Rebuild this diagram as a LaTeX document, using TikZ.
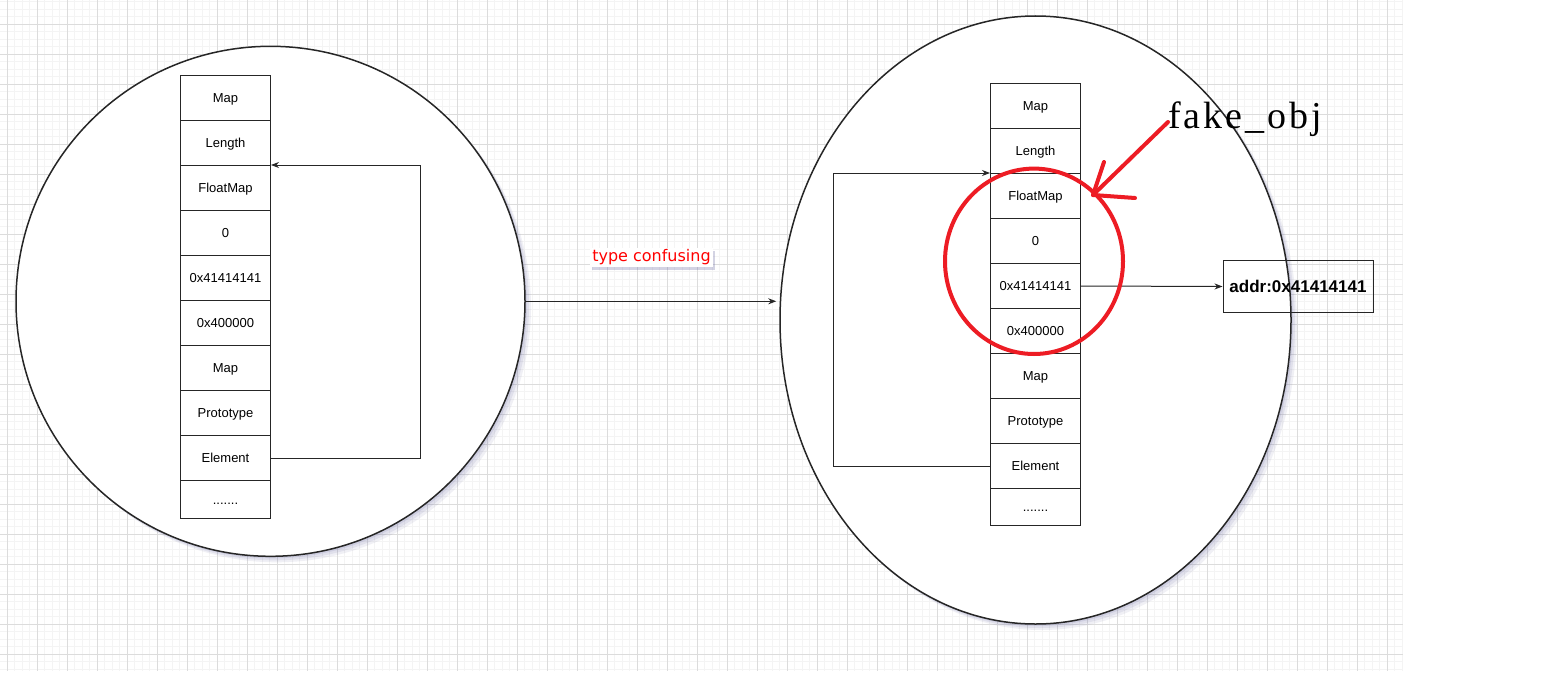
\documentclass[tikz,border=0pt]{standalone}
\usepackage{fontspec}
\setmainfont{Liberation Sans}
\newfontfamily\fakefont{Liberation Serif}[LetterSpace=8]
\newfontfamily\notefont{DejaVu Sans}
\usetikzlibrary{arrows.meta,shapes.geometric,shadows}

\definecolor{gridmajor}{RGB}{220,220,220}
\definecolor{gridminor}{RGB}{244,244,244}
\definecolor{markred}{RGB}{237,28,36}
\definecolor{shadowblue}{RGB}{110,110,165}

\tikzset{
  cell/.style={draw=black!85, line width=1pt, fill=white, minimum width=90pt,
    minimum height=45pt, inner sep=0pt, text height=10pt, text depth=0.4pt,
    font=\fontsize{13}{15}\selectfont},
  bubble/.style={ellipse, draw=black!85, line width=1.5pt, fill=white, inner sep=0pt,
    drop shadow={shadow xshift=2pt, shadow yshift=-2pt, fill=shadowblue, opacity=.15},
    drop shadow={shadow xshift=4pt, shadow yshift=-4pt, fill=shadowblue, opacity=.12},
    drop shadow={shadow xshift=6pt, shadow yshift=-6pt, fill=shadowblue, opacity=.1}},
  link/.style={line width=1pt, draw=black!85, -{Stealth[length=8pt,width=6pt]}},
  redmark/.style={draw=markred, line width=4pt, line cap=round},
}

\begin{document}
\begin{tikzpicture}[x=1pt,y=-1pt]
  \useasboundingbox (0,0) rectangle (1542,693);
  \fill[white] (0,0) rectangle (1542,693);

  % grid paper behind everything
  \begin{scope}
    \clip (0,0) rectangle (1403,671);
    \foreach \x in {-0.2,7.3,...,1403} \draw[gridminor, line width=1.2pt] (\x,0) -- (\x,671);
    \foreach \y in {1.8,9.3,...,671} \draw[gridminor, line width=1.2pt] (0,\y) -- (1403,\y);
    \foreach \x in {7.5,37.5,...,1403} \draw[gridmajor, line width=1pt] (\x,0) -- (\x,671);
    \foreach \y in {24.5,54.5,...,671} \draw[gridmajor, line width=1pt] (0,\y) -- (1403,\y);
  \end{scope}

  % the two objects
  \node[bubble, minimum width=509pt, minimum height=510pt] (lc) at (270.5,301.3) {};
  \node[bubble, minimum width=511pt, minimum height=608pt] (rc) at (1035.5,320) {};

  % left memory layout
  \foreach \lab [count=\i] in {Map,Length,FloatMap,0,0x41414141,0x400000,Map,Prototype,Element}
    \node[cell] (L\i) at (225.5,{98+45*(\i-1)}) {\lab};
  \node[cell, minimum height=38pt] (L10) at (225.5,499.5) {.......};
  \draw[link] (L9.east) -- ++(149.5,0) |- (L3.north east);

  % right memory layout
  \foreach \lab [count=\i] in {Map,Length,FloatMap,0,0x41414141,0x400000,Map,Prototype,Element}
    \node[cell] (R\i) at (1035.5,{106+45*(\i-1)}) {\lab};
  \node[cell, minimum height=37pt] (R10) at (1035.5,507) {.......};
  \draw[link] (R9.west) -- ++(-157,0) |- (R3.north west);

  \node[draw=black!85, line width=1pt, minimum width=150pt, minimum height=52pt,
    font=\bfseries\fontsize{17}{19}\selectfont] (addr) at (1298,286.5) {addr:0x41414141};
  \draw[link] (R5.east) -- (addr.west);

  % transition between the two
  \draw[link, shorten >=3pt] (lc.east) -- (lc.east -| rc.west);
  \node[fill=white, inner sep=2pt, text=red, font=\notefont\fontsize{16}{18}\selectfont,
    drop shadow={shadow xshift=2pt, shadow yshift=-3pt, fill=shadowblue, opacity=.3}]
    (note) at (651.5,257.5) {type confusing};

  % fake object marking
  \draw[redmark] (1034,261.3) ellipse [x radius=89, y radius=92.7];
  \node[font=\fakefont\fontsize{38}{40}\selectfont, anchor=base west, inner sep=0pt]
    (fake) at (1168,128) {fake\_obj};
  \coordinate (tip) at (1093,195);
  \draw[redmark] ([yshift=6pt]fake.base west) -- (tip);
  \draw[redmark] (tip) -- ++(11,-33) (tip) -- ++(42,3);
\end{tikzpicture}
\end{document}
